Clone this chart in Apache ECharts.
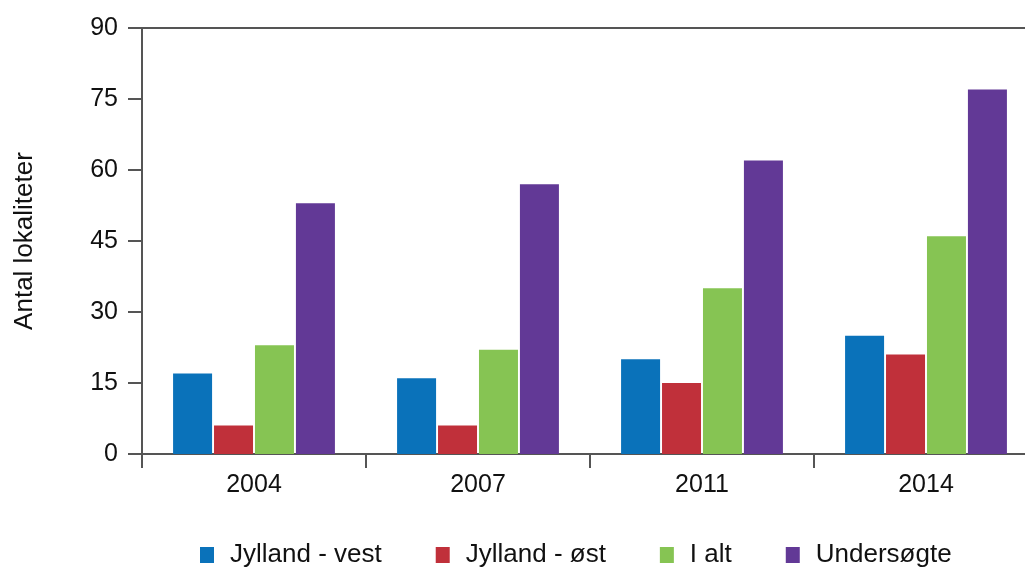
<!DOCTYPE html>
<html>
<head>
<meta charset="utf-8">
<script src="https://cdn.jsdelivr.net/npm/echarts@6/dist/echarts.min.js"></script>
<style>
html,body{margin:0;padding:0;background:#fff;}
#chart{width:1025px;height:568px;}
</style>
</head>
<body>
<div id="chart"></div>
<script>
const categories = ['2004', '2007', '2011', '2014'];
const seriesNames = ['Jylland - vest', 'Jylland - øst', 'I alt', 'Undersøgte'];
const jyllandVest = [17, 16, 20, 25];
const jyllandOst = [6, 6, 15, 21];
const iAlt = [23, 22, 35, 46];
const undersogte = [53, 57, 62, 77];
const colors = ['#0a72ba', '#c0303a', '#86c453', '#623996'];
const yAxisName = 'Antal lokaliteter';

const allValues = [jyllandVest, jyllandOst, iAlt, undersogte];
const font = '"Liberation Sans", Arial, sans-serif';
const axisColor = '#555';

const chart = echarts.init(document.getElementById('chart'));
chart.setOption({
  animation: false,
  color: colors,
  grid: { left: 142, right: -13, top: 28, bottom: 114, containLabel: false, outerBoundsMode: 'none' },
  legend: {
    data: seriesNames,
    left: 195,
    top: 537,
    icon: 'rect',
    itemWidth: 14,
    itemHeight: 16,
    itemGap: 54,
    textStyle: { fontFamily: font, fontSize: 26, color: '#111', padding: [0, 0, 0, 11] }
  },
  xAxis: [{
    type: 'category',
    data: categories,
    axisLine: { lineStyle: { color: axisColor, width: 2 } },
    axisTick: { show: true, length: 14, lineStyle: { color: axisColor, width: 2 } },
    axisLabel: { margin: 19, fontFamily: font, fontSize: 25, color: '#111' }
  }, {
    type: 'category',
    data: categories,
    position: 'top',
    axisLine: { show: true, lineStyle: { color: axisColor, width: 2 } },
    axisTick: { show: false },
    axisLabel: { show: false }
  }],
  yAxis: {
    type: 'value',
    min: 0,
    max: 90,
    interval: 15,
    name: yAxisName,
    nameLocation: 'middle',
    nameGap: 104,
    nameRotate: 90,
    nameTextStyle: { fontFamily: font, fontSize: 26, color: '#111' },
    axisLine: { show: true, lineStyle: { color: axisColor, width: 2 } },
    axisTick: { show: true, length: 14, lineStyle: { color: axisColor, width: 2 } },
    axisLabel: { margin: 24, fontFamily: font, fontSize: 25, color: '#111' },
    splitLine: { show: false }
  },
  series: seriesNames.map((name, i) => ({
    name: name,
    type: 'bar',
    data: allValues[i],
    barWidth: 39,
    barGap: '5%',
    itemStyle: { color: colors[i] }
  }))
});
</script>
</body>
</html>
